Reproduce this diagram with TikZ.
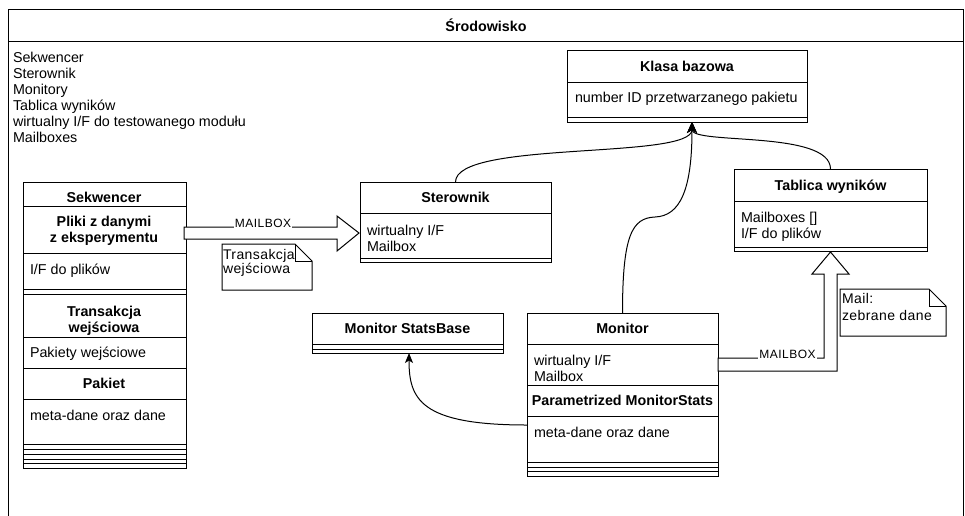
\documentclass[tikz,border=0pt]{standalone}
\usepackage{fontspec}
\setmainfont{Liberation Sans}
\newfontfamily\notefont[LetterSpace=3]{Liberation Sans}
\newfontfamily\tagfont[LetterSpace=4]{Liberation Sans}
\usetikzlibrary{arrows.meta,calc}

\tikzset{
  every node/.style={inner sep=0pt, outer sep=0pt},
  body/.style={font=\fontsize{14.3}{16}\selectfont},
  head/.style={font=\fontsize{14.3}{16}\selectfont\bfseries},
  classbox/.style={draw, anchor=north west, inner sep=0pt},
  link/.style={-{Stealth[length=11pt,width=10pt,inset=3pt]}},
  smalllink/.style={-{Stealth[length=10pt,width=8pt,inset=2.5pt]}},
  flexarrow/.style={draw, fill=white, line join=miter},
  notebox/.style={draw, fill=white},
  notetext/.style={align=left, anchor=north west},
  mailtag/.style={font=\tagfont\fontsize{12}{12}\selectfont, fill=white, inner sep=1pt},
}

\begin{document}
\begin{tikzpicture}[x=1pt,y=-1pt,line width=1pt]
\useasboundingbox (0,0) rectangle (965,515);
\clip (0,0) rectangle (965,515);

% environment frame with its title bar
\draw (8,9) rectangle (963,540);
\draw (8,41) -- (963,41);
\node[head, anchor=base] (envT) at (486,31) {Środowisko};
\node[body, align=left, anchor=north west] (envL) at (13,52.5)
  {Sekwencer\\Sterownik\\Monitory\\Tablica wyników\\wirtualny I/F do testowanego modułu\\Mailboxes};

% base class
\node[classbox, minimum width=240pt, minimum height=72pt] (kb) at (567,50) {};
\draw (567,82) -- (807,82) (567,117) -- (807,117);
\node[head, anchor=base] (kbT) at (687,71.5) {Klasa bazowa};
\node[body, anchor=base west] (kbA) at (575,102.5) {number ID przetwarzanego pakietu};

% driver
\node[classbox, minimum width=191pt, minimum height=80pt] (st) at (360,182) {};
\draw (360,213) -- (551,213) (360,258) -- (551,258);
\node[head, anchor=base] (stT) at (455.5,202.5) {Sterownik};
\node[body, align=left, anchor=north west] (stA) at (367,225.3) {wirtualny I/F\\Mailbox};

% scoreboard
\node[classbox, minimum width=193pt, minimum height=82pt] (tw) at (734,169) {};
\draw (734,201) -- (927,201) (734,247) -- (927,247);
\node[head, anchor=base] (twT) at (830.5,190.5) {Tablica wyników};
\node[body, align=left, anchor=north west] (twA) at (741,212.3) {Mailboxes []\\I/F do plików};

% monitor statistics base
\node[classbox, minimum width=191pt, minimum height=40pt] (msb) at (312,313) {};
\draw (312,344) -- (503,344) (312,349) -- (503,349);
\node[head, anchor=base] (msbT) at (407.5,333.5) {Monitor StatsBase};

% monitor
\node[classbox, minimum width=191pt, minimum height=163pt] (mon) at (527,313) {};
\foreach \y in {344,385,416,462,467,471} \draw (527,\y) -- (718,\y);
\node[head, anchor=base] (monT) at (622.5,333.5) {Monitor};
\node[body, align=left, anchor=north west] (monA) at (534,355.3) {wirtualny I/F\\Mailbox};
\node[head, anchor=base] (monS) at (622.5,405.5) {Parametrized MonitorStats};
\node[body, anchor=base west] (monB) at (534,437.5) {meta-dane oraz dane};

% sequencer stack
\node[classbox, minimum width=163pt, minimum height=286pt] (seq) at (23,182) {};
\foreach \y in {206,253,289,294,337,368,399,444,449,454,459,463} \draw (23,\y) -- (186,\y);
\node[head, anchor=base] (seqT) at (104,202.5) {Sekwencer};
\node[head, align=center, anchor=north] (seqP) at (104,216.3) {Pliki z danymi\\z eksperymentu};
\node[body, anchor=base west] (seqF) at (30,274.5) {I/F do plików};
\node[head, align=center, anchor=north] (seqTr) at (104,306) {Transakcja\\wejściowa};
\node[body, anchor=base west] (seqPw) at (30,357.5) {Pakiety wejściowe};
\node[head, anchor=base] (seqPk) at (104,388.5) {Pakiet};
\node[body, anchor=base west] (seqM) at (30,420.5) {meta-dane oraz dane};

% inheritance links to the base class
\draw[link] (st.north) .. controls +(0,-42) and +(0,38) .. ($(kb.south)+(5,0)$);
\draw[link] (tw.north) .. controls +(0,-39) and +(0,23) .. ($(kb.south)+(5,0)$);
\draw[link] (mon.north) .. controls +(0,-78) and (632,218) .. (655,217)
  .. controls (680,216) and +(0,68) .. ($(kb.south)+(5,0)$);
\draw[smalllink] ($(mon.west)+(0,30.5)$) .. controls +(-107,0) and +(0,46) .. ($(msb.south)+(1.5,0)$);

% mailbox: sequencer -> driver
\coordinate (mbS) at (184,233);
\coordinate (mbE) at (st.west |- mbS);
\draw[flexarrow] ($(mbS)+(0,-6)$) -- ($(mbE)+(-23,-6)$) -- ($(mbE)+(-23,-17)$) -- ($(mbE)+(-1,0)$)
  -- ($(mbE)+(-23,18)$) -- ($(mbE)+(-23,6)$) -- ($(mbS)+(0,6)$) -- cycle;
\node[mailtag] (mb1) at (263,223) {MAILBOX};

% mailbox: monitor -> scoreboard
\coordinate (mbR) at (718,364.5);
\coordinate (mbT) at ($(tw.south)+(0,1)$);
\coordinate (mbC) at (mbT |- mbR);
\draw[flexarrow] ($(mbR)+(0,-6.5)$) -- ($(mbC)+(-6.5,-6.5)$) -- ($(mbT)+(-6.5,22)$) -- ($(mbT)+(-18.5,22)$)
  -- (mbT) -- ($(mbT)+(18.5,22)$) -- ($(mbT)+(6.5,22)$) -- ($(mbC)+(6.5,6.5)$) -- ($(mbR)+(0,6.5)$) -- cycle;
\node[mailtag] (mb2) at (787.5,354.5) {MAILBOX};

% notes
\draw[notebox] (222,244) -- (295,244) -- (312,261) -- (312,290) -- (222,290) -- cycle;
\draw (295,244) -- (295,261) -- (312,261);
\node[notetext, font=\notefont\fontsize{14}{14}\selectfont] (n1) at (223,249.3) {Transakcja\\wejściowa};

\draw[notebox] (840,289) -- (929,289) -- (946,306) -- (946,336) -- (840,336) -- cycle;
\draw (929,289) -- (929,306) -- (946,306);
\node[notetext, font=\notefont\fontsize{14}{17}\selectfont] (n2) at (842,293.3) {Mail:\\zebrane dane};
\end{tikzpicture}
\end{document}
